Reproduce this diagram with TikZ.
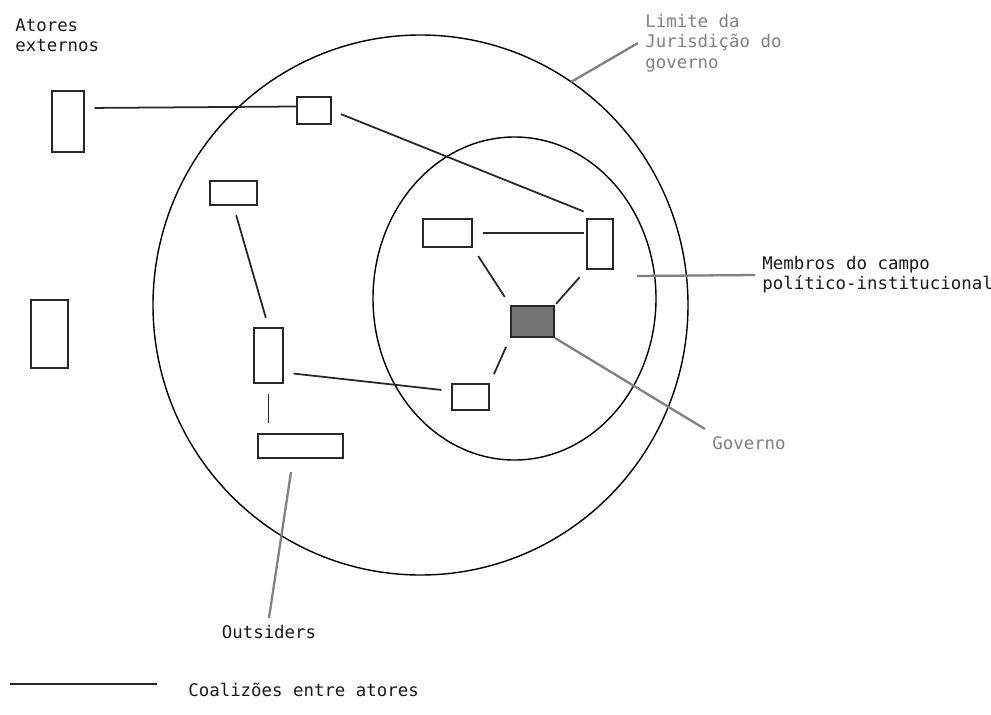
\documentclass[tikz,border=0pt]{standalone}
\usepackage{fontspec}
\setmonofont{DejaVu Sans Mono}
\usetikzlibrary{calc}

\begin{document}
\begin{tikzpicture}[
    x=0.02cm, y=-0.02cm,
    font=\ttfamily\fontsize{9.9}{11.6}\selectfont,
    caixa/.style 2 args={
      draw=black!85, line width=1.1pt, fill=white,
      minimum width=#1*0.02cm, minimum height=#2*0.02cm, inner sep=0pt
    },
    lig/.style={line width=1pt, black!85, shorten <=5.5pt, shorten >=5.5pt},
    aviso/.style={line width=1.3pt, black!50},
    rotulo/.style={inner sep=4pt, align=left, text=black!90},
    limite/.style={line width=0.8pt}
  ]
    \useasboundingbox (0,0) rectangle (991,714);
    \draw[limite] (420.5,305) ellipse [x radius=267.5, y radius=270];
    \draw[limite] (514.5,298.5) ellipse [x radius=141.5, y radius=161.5];

    \node[caixa={32}{61}] (externo1) at (68,121.5) {};
    \node[caixa={37}{68}] (externo2) at (49.5,334) {};
    \node[caixa={34}{27}] (ator1) at (314,110.5) {};
    \node[caixa={47}{24}] (ator2) at (233.5,193) {};
    \node[caixa={29}{55}] (ator3) at (268.5,355.5) {};
    \node[caixa={85}{24}] (ator4) at (300.5,446) {};
    \node[caixa={49}{28}] (ator5) at (447.5,233) {};
    \node[caixa={26}{50}] (ator6) at (600,244) {};
    \node[caixa={37}{26}] (ator7) at (470.5,397) {};
    \node[caixa={43}{31}, fill=black!55] (governo) at (532.5,321.5) {};

    \draw[lig, shorten >=0pt] ([yshift=0.27cm]externo1.east) -- ([yshift=0.08cm]ator1.west);
    \draw[lig, shorten >=10pt] (ator1.east) -- (ator6.north);
    \draw[lig] (ator2.south) -- (ator3.north);
    \draw[lig] (ator3.south) -- (ator3.south |- ator4.north);
    \draw[lig] ([yshift=-0.34cm]ator3.east) -- ([yshift=0.12cm]ator7.west);
    \draw[lig, shorten >=1pt] (ator5.east) -- (ator5.east -| ator6.west);
    \draw[lig] (ator5.south east) -- (governo.north west);
    \draw[lig, shorten >=1pt] (ator6.south west) -- (governo.north east);
    \draw[lig] (governo.south west) -- (ator7.north east);

    \node[rotulo, anchor=west] (atores) at (8,35) {Atores\\externos};
    \node[rotulo, anchor=west, text=black!50] (jurisdicao) at (638,43)
      {Limite da\\Jurisdição do\\governo};
    \node[rotulo, anchor=west] (membros) at (755,275)
      {Membros do campo\\político-institucional};
    \node[rotulo, anchor=west, text=black!50] (govtexto) at (705,443) {Governo};
    \node[rotulo] (outsiders) at (269,632) {Outsiders};
    \node[rotulo, anchor=west] (legenda) at (181,690) {Coalizões entre atores};

    \coordinate (borda) at (571,82);
    \coordinate (campo) at (637,276);
    \coordinate (fora) at (291,472);
    \coordinate (lega) at (10,684);
    \coordinate (legb) at (157,684);
    \draw[aviso] (borda) -- (jurisdicao.west);
    \draw[aviso] (campo) -- (membros.west);
    \draw[aviso] (governo.south east) -- (govtexto.north west);
    \draw[aviso] (fora) -- (outsiders.north);
    \draw[line width=1pt, black!85] (lega) -- (legb);
  \end{tikzpicture}
\end{document}
